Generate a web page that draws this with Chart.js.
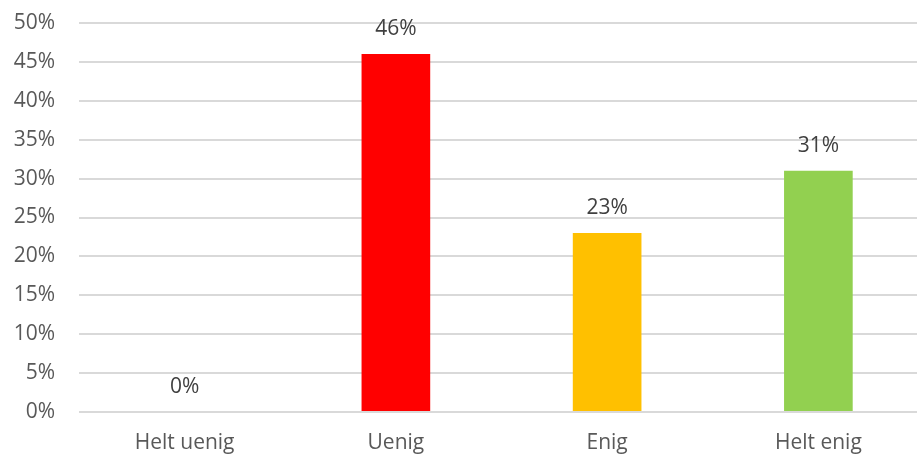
<!DOCTYPE html>
<html>
<head>
<meta charset="utf-8">
<script src="https://cdn.jsdelivr.net/npm/chart.js@4"></script>
<style>
  html, body { margin: 0; padding: 0; background: #fff; overflow: hidden; }
  #wrap { width: 924px; height: 455px; position: relative; }
</style>
</head>
<body>
<div id="wrap"><canvas id="chart"></canvas></div>
<script>
  'use strict';

  const categories = ['Helt uenig', 'Uenig', 'Enig', 'Helt enig'];
  const values = [0, 46, 23, 31];
  const barColors = ['#FF0000', '#FF0000', '#FFC000', '#92D050'];
  const yTicks = [0, 5, 10, 15, 20, 25, 30, 35, 40, 45, 50];

  const FONT = '"Open Sans", sans-serif';
  const TEXT = '#595959';

  // value labels above each bar
  const barLabels = {
    id: 'barLabels',
    afterDatasetsDraw(chart) {
      const ctx = chart.ctx;
      const meta = chart.getDatasetMeta(0);
      ctx.save();
      ctx.font = '21px ' + FONT;
      ctx.fillStyle = '#404040';
      ctx.textAlign = 'center';
      ctx.textBaseline = 'middle';
      meta.data.forEach((bar, i) => {
        ctx.fillText(values[i] + '%', bar.x, bar.y - 25);
      });
      ctx.restore();
    }
  };

  new Chart(document.getElementById('chart'), {
    type: 'bar',
    data: {
      labels: categories,
      datasets: [{
        data: values,
        backgroundColor: barColors,
        borderWidth: 0,
        barPercentage: 0.325,
        categoryPercentage: 1
      }]
    },
    options: {
      responsive: true,
      maintainAspectRatio: false,
      animation: false,
      layout: { padding: { top: 23, right: 0, bottom: 0, left: 0 } },
      plugins: {
        legend: { display: false },
        tooltip: { enabled: false }
      },
      scales: {
        x: {
          grid: { display: false, drawTicks: false },
          border: { display: false },
          ticks: { color: TEXT, font: { family: FONT, size: 21 }, padding: 18 },
          afterFit(scale) { scale.height = 43; }
        },
        y: {
          min: 0,
          max: 50,
          afterBuildTicks(scale) { scale.ticks = yTicks.map(v => ({ value: v })); },
          grid: { color: '#D9D9D9', lineWidth: 2, drawTicks: false },
          border: { display: false },
          ticks: {
            color: TEXT,
            font: { family: FONT, size: 21 },
            padding: 24,
            callback: v => v + '%'
          },
          afterFit(scale) {
            scale.width = 79;
            scale.paddingTop = 0;
            scale.paddingBottom = 0;
          }
        }
      }
    },
    plugins: [barLabels]
  });
</script>
</body>
</html>
